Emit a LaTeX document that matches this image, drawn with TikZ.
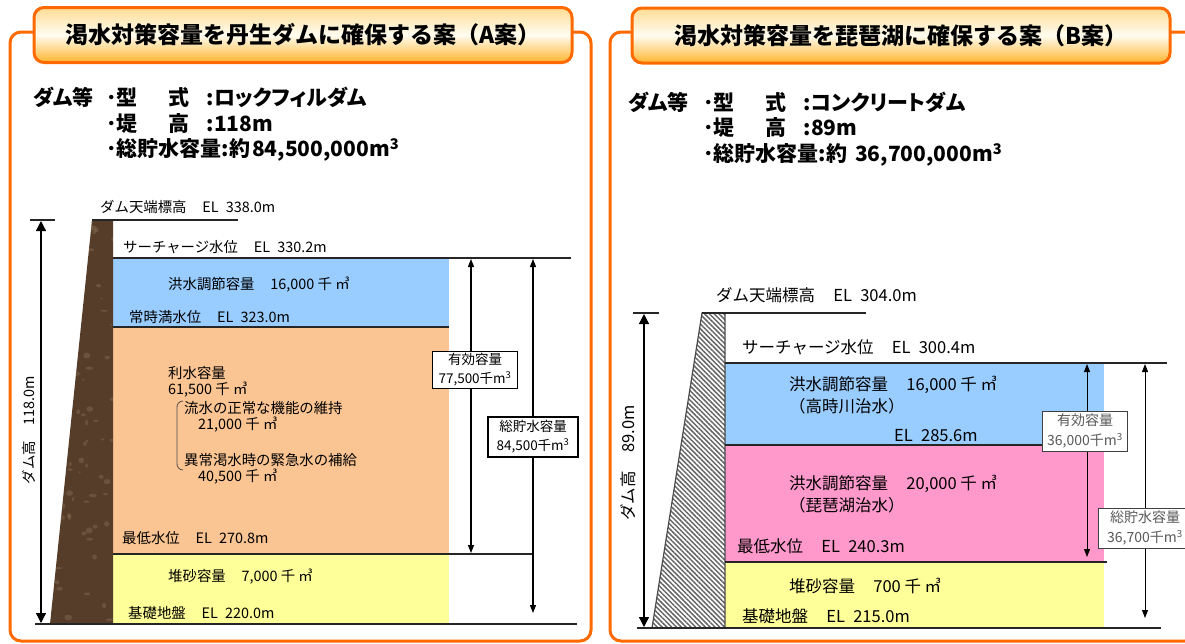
\documentclass[tikz,border=0pt]{standalone}
\usepackage{fontspec}
\setmainfont{Noto Sans CJK JP}
\newfontfamily\jpp{Noto Sans CJK JP}[RawFeature=+palt]
\usetikzlibrary{arrows.meta,patterns.meta}

\definecolor{frameorange}{HTML}{FF6A00}
\definecolor{titletop}{HTML}{FFDC94}
\definecolor{titlemid}{HTML}{FFFCF0}
\definecolor{titlebot}{HTML}{FFB52E}
\definecolor{floodblue}{HTML}{99CCFF}
\definecolor{usepeach}{HTML}{FBC593}
\definecolor{sandyellow}{HTML}{FFFF99}
\definecolor{lakepink}{HTML}{FF99CC}
\definecolor{rockbrown}{HTML}{553D2A}
\definecolor{rocklight}{HTML}{A08468}

\newcommand\elv[1]{\hspace{1.1em}EL\hspace{0.5em}#1}

\begin{document}
\begin{tikzpicture}[x=1pt,y=-1pt,
	frame/.style={draw=frameorange,line width=3pt,rounded corners=11pt},
	titlebox/.style={draw=frameorange,line width=3pt,rounded corners=10pt,top color=titletop,bottom color=titlebot,middle color=titlemid,minimum height=55pt,font=\bfseries\fontsize{23}{26}\selectfont},
	infotxt/.style={anchor=west,inner sep=0pt,font=\jpp\bfseries\fontsize{21}{24}\selectfont},
	lvltxt/.style={anchor=west,inner sep=0pt,font=\fontsize{14.4}{17}\selectfont},
	lvltxtB/.style={lvltxt,font=\fontsize{16.5}{19}\selectfont},
	lvlline/.style={draw=black!85,line width=1.5pt},
	htarrow/.style={{Triangle[length=10pt,width=10pt]}-{Triangle[length=10pt,width=10pt]},line width=1.3pt},
	volarrow/.style={{Triangle[length=8pt,width=6pt]}-{Triangle[length=8pt,width=6pt]},line width=1.2pt},
	capbox/.style={draw=black,line width=1.2pt,fill=white,align=center,inner sep=1pt,minimum width=85pt,minimum height=37pt,font=\fontsize{13.5}{19}\selectfont},
	capboxB/.style={capbox,draw=black!75,text=black!65,line width=1pt,minimum height=40pt,font=\fontsize{14}{20}\selectfont}]
	\useasboundingbox (0,0) rectangle (1185,643);

	% frames and titles
	\draw[frame] (10,32) rectangle (591,641);
	\draw[frame] (610,32) rectangle (1196,641);
	\node[titlebox,minimum width=538pt] (titleA) at (303,35) {渇水対策容量を丹生ダムに確保する案（A案）};
	\node[titlebox,minimum width=538pt] (titleB) at (901,35.5) {渇水対策容量を琵琶湖に確保する案（B案）};

	% dam data
	\node[infotxt] (damA) at (33,97) {ダム等};
	\node[infotxt] (typeA) at (106,97) {･型\hspace{31pt}式\hspace{17pt}:ロックフィルダム};
	\node[infotxt] (heightA) at (106,124) {･堤\hspace{31pt}高\hspace{17pt}:118m};
	\node[infotxt] (volA) at (106,150) {･総貯水容量:約\hspace{2pt}84,500,000m\textsuperscript{3}};
	\node[infotxt] (damB) at (628,102) {ダム等};
	\node[infotxt] (typeB) at (703,102) {･型\hspace{31pt}式\hspace{17pt}:コンクリートダム};
	\node[infotxt] (heightB) at (703,128) {･堤\hspace{31pt}高\hspace{17pt}:89m};
	\node[infotxt] (volB) at (703,155) {･総貯水容量:約\hspace{8pt}36,700,000m\textsuperscript{3}};

	% reservoir A
	\fill[floodblue] (113,258) rectangle (449,327);
	\fill[usepeach] (113,327) rectangle (449,554);
	\fill[sandyellow] (113,554) rectangle (449,624);
	\begin{scope}
		\clip (92,220) -- (113,220) -- (113,624) -- (50,624) -- cycle;
		\fill[rockbrown] (40,215) rectangle (120,630);
		\pgfmathsetseed{11}
		\foreach \k in {1,...,90}
			\fill[rocklight,opacity=0.3] ({50+65*rnd},{220+404*rnd}) ellipse ({1+3*rnd} and {1+2*rnd});
	\end{scope}
	\draw[lvlline] (92,220) -- (238,220);
	\draw[lvlline] (30,220) -- (55,220);
	\draw[lvlline] (113,258) -- (571,258);
	\draw[lvlline] (113,327) -- (449,327);
	\draw[lvlline] (113,554) -- (533,554);
	\draw[lvlline] (35,624) -- (577,624);
	\draw[black!70,line width=0.8pt,rounded corners=6pt] (183,401) -- (177,401) -- (177,470) -- (183,470);

	\coordinate (A-ht-top) at (41,221);
	\coordinate (A-ht-bot) at (41,623);
	\coordinate (A-eff-top) at (471,259);
	\coordinate (A-eff-bot) at (471,553);
	\coordinate (A-tot-top) at (533,259);
	\coordinate (A-tot-bot) at (533,613);
	\draw[htarrow] (A-ht-top) -- (A-ht-bot);
	\draw[volarrow] (A-eff-top) -- (A-eff-bot);
	\draw[volarrow] (A-tot-top) -- (A-tot-bot);
	\node[capbox] (effA) at (475,370) {有効容量\\77,500千m\textsuperscript{3}};
	\node[capbox,minimum width=90pt,minimum height=40pt] (totA) at (533,437) {総貯水容量\\84,500千m\textsuperscript{3}};

	\node[lvltxt,rotate=90,anchor=center] (htA) at (29,430) {ダム高\hspace{1.1em}118.0m};
	\node[lvltxt] (crestA) at (100,207) {ダム天端標高\elv{338.0m}};
	\node[lvltxt] (surA) at (123,247) {サーチャージ水位\elv{330.2m}};
	\node[lvltxt] (floodA) at (168,285) {洪水調節容量\hspace{1.1em}16,000 千 ㎥};
	\node[lvltxt] (normA) at (129,317) {常時満水位\elv{323.0m}};
	\node[lvltxt] (useA) at (168,373) {利水容量};
	\node[lvltxt] (useAv) at (168,390) {61,500 千 ㎥};
	\node[lvltxt] (flowA) at (184,408) {流水の正常な機能の維持};
	\node[lvltxt] (flowAv) at (198,425) {21,000 千 ㎥};
	\node[lvltxt] (emerA) at (184,460) {異常渇水時の緊急水の補給};
	\node[lvltxt] (emerAv) at (198,477) {40,500 千 ㎥};
	\node[lvltxt] (lowA) at (122,538) {最低水位\elv{270.8m}};
	\node[lvltxt] (sandA) at (168,577) {堆砂容量\hspace{1.1em}7,000 千 ㎥};
	\node[lvltxt] (baseA) at (128,613) {基礎地盤\elv{220.0m}};

	% reservoir B
	\fill[floodblue] (725,363) rectangle (1104,445);
	\fill[lakepink] (725,445) rectangle (1104,562);
	\fill[sandyellow] (725,562) rectangle (1104,628);
	\draw[draw=black!70,line width=1.2pt,pattern={Lines[angle=-45,distance=3.4pt,line width=1.5pt]},pattern color=black!60] (702,313) -- (725,313) -- (725,628) -- (652,628) -- cycle;
	\draw[lvlline] (702,313) -- (866,313);
	\draw[lvlline] (633,313) -- (659,313);
	\draw[lvlline] (725,363) -- (1167,363);
	\draw[lvlline] (725,445) -- (1104,445);
	\draw[lvlline] (725,562) -- (1107,562);
	\draw[lvlline] (637,628) -- (1161,628);

	\coordinate (B-ht-top) at (644,314);
	\coordinate (B-ht-bot) at (644,627);
	\coordinate (B-eff-top) at (1087,364);
	\coordinate (B-eff-bot) at (1087,557);
	\coordinate (B-tot-top) at (1145,364);
	\coordinate (B-tot-bot) at (1145,618);
	\draw[htarrow] (B-ht-top) -- (B-ht-bot);
	\draw[volarrow,line width=0.9pt] (B-eff-top) -- (B-eff-bot);
	\draw[volarrow,line width=0.9pt] (B-tot-top) -- (B-tot-bot);
	\node[capboxB] (effB) at (1085,431) {有効容量\\36,000千m\textsuperscript{3}};
	\node[capboxB,minimum width=94pt] (totB) at (1145,528) {総貯水容量\\36,700千m\textsuperscript{3}};

	\node[lvltxtB,rotate=90,anchor=center] (htB) at (628,463) {ダム高\hspace{1.1em}89.0m};
	\node[lvltxtB] (crestB) at (716,295) {ダム天端標高\elv{304.0m}};
	\node[lvltxtB] (surB) at (742,347) {サーチャージ水位\elv{300.4m}};
	\node[lvltxtB] (floodB1) at (789,385) {洪水調節容量\hspace{1.1em}16,000 千 ㎥};
	\node[lvltxtB] (floodB1r) at (789,406) {（高時川治水）};
	\node[lvltxtB] (midB) at (894,436) {EL\hspace{0.5em}285.6m};
	\node[lvltxtB] (floodB2) at (789,484) {洪水調節容量\hspace{1.1em}20,000 千 ㎥};
	\node[lvltxtB] (floodB2r) at (789,505) {（琵琶湖治水）};
	\node[lvltxtB] (lowB) at (737,546) {最低水位\elv{240.3m}};
	\node[lvltxtB] (sandB) at (789,586) {堆砂容量\hspace{1.1em}700 千 ㎥};
	\node[lvltxtB] (baseB) at (742,616) {基礎地盤\elv{215.0m}};
\end{tikzpicture}
\end{document}
